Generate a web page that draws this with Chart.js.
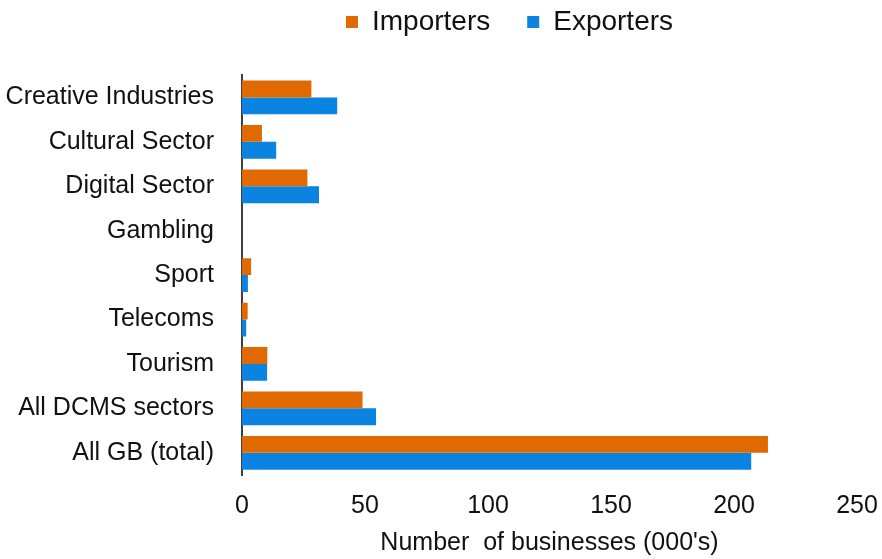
<!DOCTYPE html>
<html>
<head>
<meta charset="utf-8">
<script src="https://cdn.jsdelivr.net/npm/chart.js@4/dist/chart.umd.min.js"></script>
<style>
  html, body { margin: 0; padding: 0; background: #fff; }
  #wrap { width: 882px; height: 559px; }
</style>
</head>
<body>
<div id="wrap"><canvas id="chart" width="882" height="559"></canvas></div>
<script>
// Sectors, top to bottom
const sectors = ['Creative Industries', 'Cultural Sector', 'Digital Sector', 'Gambling', 'Sport', 'Telecoms', 'Tourism', 'All DCMS sectors', 'All GB (total)'];

// Number of businesses (000's)
const importers = [28.2, 8.1, 26.6, 0, 3.7, 2.3, 10.3, 49, 213.8];
const exporters = [38.7, 13.9, 31.3, 0, 2.4, 1.7, 10.2, 54.5, 207];

// Axis range
const xMin = 0;
const xMax = 250;
const xStep = 50;

const orange = '#e06a00';
const blue = '#0a84e0';
const fontFamily = '"Liberation Sans", Arial, sans-serif';

// the legend sits right of centre in the original
const legendShift = 81;
const legendNudge = {
    id: 'legendNudge',
    afterLayout(chart) {
        chart.legend.left += legendShift;
        chart.legend.right += legendShift;
    }
};

new Chart(document.getElementById('chart'), {
    type: 'bar',
    data: {
        labels: sectors,
        datasets: [
            { label: 'Importers', data: importers, backgroundColor: orange },
            { label: 'Exporters', data: exporters, backgroundColor: blue }
        ]
    },
    plugins: [legendNudge],
    options: {
        indexAxis: 'y',
        responsive: false,
        animation: false,
        categoryPercentage: 0.76,
        barPercentage: 1.0,
        layout: { padding: { top: -29, right: 25, bottom: 1, left: 0 } },
        plugins: {
            legend: {
                position: 'top',
                labels: {
                    color: '#111',
                    font: { family: fontFamily, size: 28 },
                    boxWidth: 12,
                    boxHeight: 12,
                    padding: 37
                }
            },
            // empty title used only as a gap between legend and plot
            title: {
                display: true,
                text: ' ',
                weight: 500,
                font: { size: 1 },
                padding: { top: 28, bottom: 0 }
            },
            tooltip: { enabled: false }
        },
        scales: {
            x: {
                min: xMin,
                max: xMax,
                ticks: {
                    stepSize: xStep,
                    color: '#111',
                    font: { family: fontFamily, size: 25, lineHeight: 1.0 },
                    padding: 11
                },
                grid: { display: false },
                border: { display: false },
                title: {
                    display: true,
                    text: "Number  of businesses (000's)",
                    color: '#111',
                    font: { family: fontFamily, size: 25 },
                    padding: { top: -2, bottom: 0 }
                },
                afterFit: (scale) => { scale.paddingLeft = 0; scale.paddingRight = 0; }
            },
            y: {
                ticks: {
                    color: '#111',
                    font: { family: fontFamily, size: 25 },
                    padding: 20
                },
                grid: { display: false },
                border: { display: true, color: '#404040', width: 2 },
                afterFit: (scale) => { scale.width = 242; }
            }
        }
    }
});
</script>
</body>
</html>
